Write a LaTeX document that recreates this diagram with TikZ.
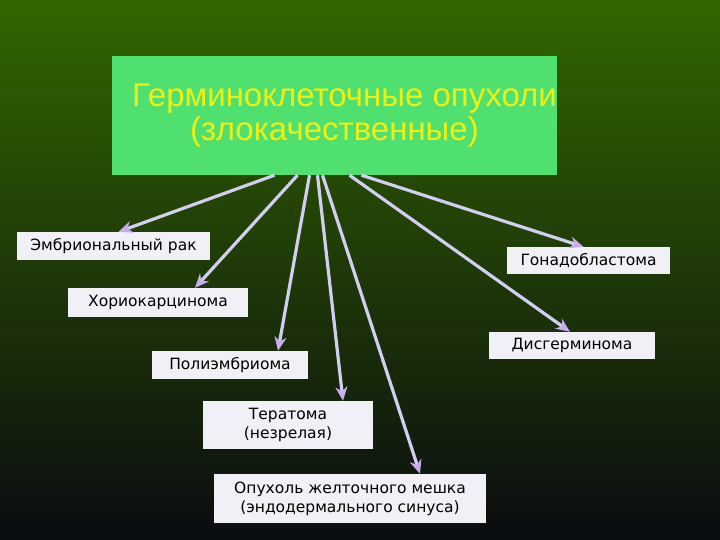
\documentclass[tikz,border=0pt]{standalone}
\usepackage{fontspec}
\setmainfont{Liberation Sans}
\newfontfamily\leaffont{DejaVu Sans}
\usetikzlibrary{arrows.meta}

\definecolor{bgtop}{RGB}{51,102,0}
\definecolor{bgmid}{RGB}{36,72,22}
\definecolor{bgbot}{RGB}{10,12,16}
\definecolor{titlegreen}{RGB}{80,224,112}
\definecolor{titleyellow}{RGB}{236,240,20}
\definecolor{leafgray}{RGB}{240,240,246}
\definecolor{linelav}{RGB}{210,206,240}
\definecolor{tiplav}{RGB}{200,172,236}

\tikzset{
  title/.style={fill=titlegreen, text=titleyellow, align=center, inner sep=0pt,
    font=\fontsize{33}{34}\selectfont, minimum width=445, minimum height=119},
  leaf/.style={fill=leafgray, text=black, align=center, inner sep=0pt,
    font=\leaffont\fontsize{15.5}{19}\selectfont},
  arrow/.style={draw=linelav, line width=3.2pt,
    -{Stealth[length=14pt,width=12pt,color=tiplav]}}
}

\begin{document}
\begin{tikzpicture}[x=1pt, y=-1pt]
\shade[top color=bgtop, middle color=bgmid, bottom color=bgbot] (0,0) rectangle (720,540);

\node[title] (germ) at (334.5,115.5) {\hspace*{20pt}Герминоклеточные опухоли\\(злокачественные)};

\node[leaf, minimum width=193, minimum height=28] (embr) at (113.5,246) {Эмбриональный рак};
\node[leaf, minimum width=180, minimum height=29] (chor) at (158,302.5) {Хориокарцинома};
\node[leaf, minimum width=156, minimum height=28] (poly) at (230,365) {Полиэмбриома};
\node[leaf, minimum width=170, minimum height=48] (tera) at (288,425) {Тератома\\(незрелая)};
\node[leaf, minimum width=272, minimum height=49] (yolk) at (350,498.5) {Опухоль желточного мешка\\(эндодермального синуса)};
\node[leaf, minimum width=163, minimum height=27] (gona) at (588.5,260.5) {Гонадобластома};
\node[leaf, minimum width=166, minimum height=27] (dysg) at (572,345.5) {Дисгерминома};

\foreach \dx/\leaf/\ex in {-60/embr/5,-37/chor/37,-25/poly/48,-17/tera/55,-12/yolk/70,15/dysg/-2,27/gona/-5}
{
    \draw[arrow] ([xshift=\dx]germ.south) -- ([xshift=\ex]\leaf.north);
}

\end{tikzpicture}
\end{document}
